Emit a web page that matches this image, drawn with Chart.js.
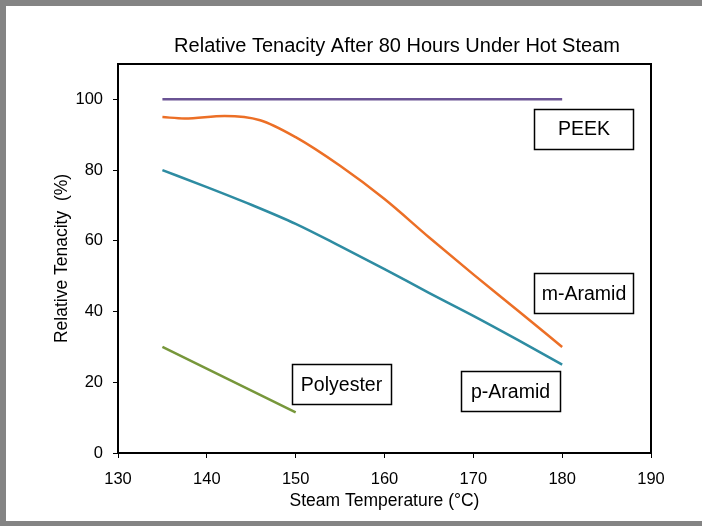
<!DOCTYPE html>
<html>
<head>
<meta charset="utf-8">
<script src="https://cdn.jsdelivr.net/npm/chart.js@4/dist/chart.umd.min.js"></script>
<style>
	html, body { margin: 0; padding: 0; background: #fff; }
	#wrap { width: 702px; height: 526px; }
</style>
</head>
<body>
<div id="wrap"><canvas id="chart-line"></canvas></div>
<script>
// Chart data
const M_TEMPS = [135, 137.5, 142, 146, 150, 155, 160, 165, 170, 175, 180];
const M_ARAMID = [95, 94.6, 95.3, 94.1, 89.3, 81.2, 71.8, 61, 50.5, 40.3, 30];
const P_TEMPS = [135, 140, 145, 150, 155, 160, 165, 170, 175, 180];
const P_ARAMID = [80, 75.2, 70.2, 64.8, 58.5, 52, 45.3, 38.8, 32, 25];
const PEEK_TEMPS = [135, 180];
const PEEK = [100, 100];
const POLY_TEMPS = [135, 150];
const POLYESTER = [30, 11.5];
const X_TICKS = [130, 140, 150, 160, 170, 180, 190];
const Y_TICKS = [0, 20, 40, 60, 80, 100];

// Label boxes (centre in data units)
const NOTES = [
	{ text: "PEEK", x: 182.46, y: 91.6 },
	{ text: "m-Aramid", x: 182.46, y: 45.2 },
	{ text: "p-Aramid", x: 174.19, y: 17.4 },
	{ text: "Polyester", x: 155.16, y: 19.4 },
];

const FONT = "'Liberation Sans', Arial, sans-serif";
const toPoints = (xs, ys) => xs.map((x, i) => ({ x: x, y: ys[i] }));

const line = (label, xs, ys, color) => ({
	label: label,
	data: toPoints(xs, ys),
	borderColor: color,
	borderWidth: 2.5,
	pointRadius: 0,
	cubicInterpolationMode: "monotone",
	fill: false,
});

const framePlugin = {
	id: "frame",
	beforeDraw(chart) {
		const { ctx, width, height } = chart;
		ctx.save();
		ctx.fillStyle = "#fff";
		ctx.fillRect(0, 0, width, height);
		ctx.fillStyle = "#848484";
		ctx.fillRect(0, 0, width, 6);
		ctx.fillRect(0, 0, 6, height);
		ctx.fillRect(0, height - 5, width, 5);
		ctx.restore();
	},
	afterDraw(chart) {
		const { ctx, chartArea: a, scales } = chart;
		ctx.save();
		ctx.strokeStyle = "#000";
		ctx.lineWidth = 2;
		ctx.strokeRect(a.left, a.top, a.right - a.left, a.bottom - a.top);

		// title
		ctx.fillStyle = "#000";
		ctx.font = "20px " + FONT;
		ctx.textAlign = "center";
		ctx.textBaseline = "middle";
		ctx.fillText("Relative Tenacity After 80 Hours Under Hot Steam", 397, 46);

		// label boxes
		ctx.font = "19.5px " + FONT;
		ctx.lineWidth = 1.5;
		NOTES.forEach((n) => {
			const cx = scales.x.getPixelForValue(n.x);
			const cy = scales.y.getPixelForValue(n.y);
			ctx.strokeRect(Math.round(cx - 50) + 0.5, Math.round(cy - 20) + 0.5, 99, 40);
			ctx.fillText(n.text, cx, cy + 1);
		});
		ctx.restore();
	},
};

const DATA = {
	datasets: [
		line("PEEK", PEEK_TEMPS, PEEK, "#6a5394"),
		line("m-Aramid", M_TEMPS, M_ARAMID, "#ec6f26"),
		line("p-Aramid", P_TEMPS, P_ARAMID, "#2e8ca2"),
		line("Polyester", POLY_TEMPS, POLYESTER, "#77973b"),
	],
};

const CONFIG = {
	type: "line",
	data: DATA,
	plugins: [framePlugin],
	options: {
		responsive: true,
		maintainAspectRatio: false,
		animation: false,
		layout: {
			padding: { left: 6, top: 64, right: 51, bottom: 0 },
		},
		plugins: {
			legend: { display: false },
			title: { display: false },
			tooltip: { enabled: false },
		},
		scales: {
			x: {
				type: "linear",
				min: 130,
				max: 190,
				afterBuildTicks: (s) => { s.ticks = X_TICKS.map((v) => ({ value: v })); },
				afterFit: (s) => { s.height = 73; },
				border: { display: true, color: "#000", width: 2 },
				grid: { drawOnChartArea: false, drawTicks: true, tickLength: 5, color: "#000", lineWidth: 1 },
				ticks: { color: "#000", font: { family: FONT, size: 16.5 }, padding: 12, maxRotation: 0 },
				title: {
					display: true,
					text: "Steam Temperature (°C)",
					color: "#000",
					font: { family: FONT, size: 17.5 },
					padding: { top: 14, bottom: 14 },
				},
			},
			y: {
				type: "linear",
				min: 0,
				max: 110,
				afterBuildTicks: (s) => { s.ticks = Y_TICKS.map((v) => ({ value: v })); },
				afterFit: (s) => { s.width = 112; },
				border: { display: true, color: "#000", width: 2 },
				grid: { drawOnChartArea: false, drawTicks: true, tickLength: 5, color: "#000", lineWidth: 1 },
				ticks: { color: "#000", font: { family: FONT, size: 16.5 }, padding: 10 },
				title: {
					display: true,
					text: "Relative Tenacity  (%)",
					color: "#000",
					font: { family: FONT, size: 17.5 },
					padding: { top: 46, bottom: 46 },
				},
			},
		},
	},
};

// Init chart
const CHART_WRAPPER = document.getElementById("chart-line");
if (CHART_WRAPPER) {
	new Chart(CHART_WRAPPER, CONFIG);
}
</script>
</body>
</html>
